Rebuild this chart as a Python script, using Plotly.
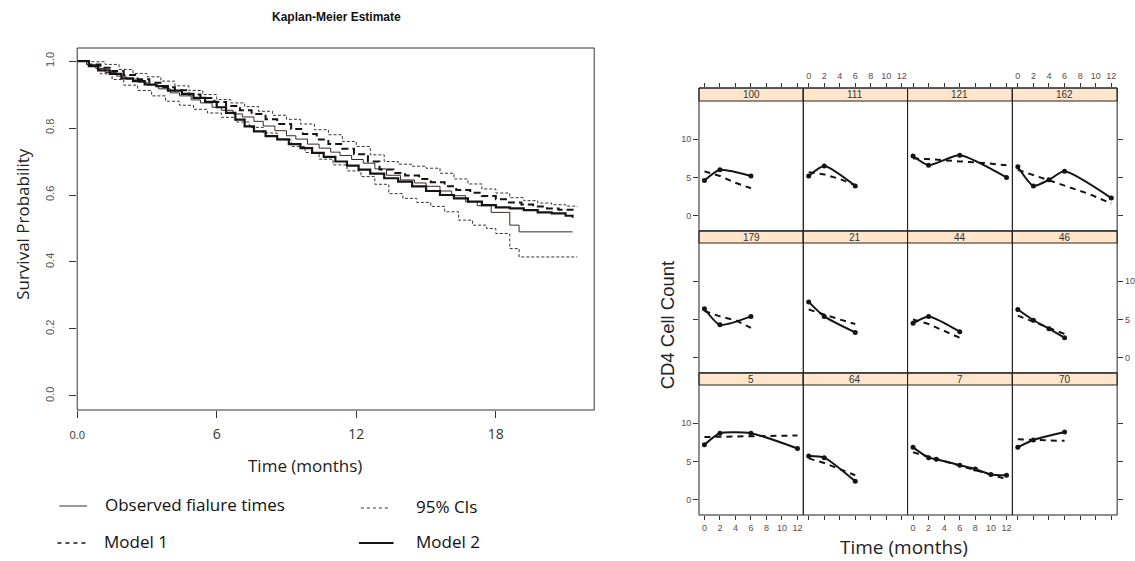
import plotly.graph_objects as go

W, H = 1135, 561

# ---------------- Left panel: Kaplan-Meier curves (step functions) ----------------
obs_t = [0, 0.4, 0.8, 1.2, 1.7, 2.1, 2.6, 3.0, 3.5, 4.0, 4.4, 4.9, 5.3, 5.8, 6.2, 6.7, 7.1, 7.6, 8.0,
         8.5, 9.0, 9.4, 9.9, 10.4, 10.9, 11.3, 11.8, 12.3, 12.8, 13.3, 13.9, 14.5, 15.0, 15.6, 16.1,
         16.7, 17.2, 17.8, 18.6, 19.0, 21.3]
obs_s = [1.0, 0.99, 0.978, 0.966, 0.955, 0.946, 0.937, 0.928, 0.917, 0.905, 0.896, 0.884, 0.875,
         0.862, 0.853, 0.842, 0.833, 0.82, 0.806, 0.792, 0.777, 0.767, 0.752, 0.74, 0.728, 0.718,
         0.706, 0.695, 0.678, 0.659, 0.645, 0.636, 0.626, 0.612, 0.598, 0.58, 0.568, 0.548, 0.51,
         0.49, 0.49]

m2_t = [0, 0.5, 0.9, 1.4, 1.9, 2.4, 2.9, 3.4, 3.9, 4.5, 5.0, 5.5, 6.0, 6.4, 6.8, 7.2, 7.6, 8.1, 8.6,
        9.1, 9.6, 10.1, 10.6, 11.1, 11.6, 12.1, 12.6, 13.2, 13.8, 14.4, 15.0, 15.6, 16.2, 16.8, 17.4,
        18.0, 18.6, 19.2, 19.8, 20.4, 21.0, 21.3]
m2_s = [1.0, 0.985, 0.972, 0.962, 0.948, 0.94, 0.93, 0.925, 0.912, 0.902, 0.89, 0.878, 0.862, 0.845,
        0.825, 0.805, 0.79, 0.776, 0.766, 0.752, 0.74, 0.726, 0.714, 0.7, 0.688, 0.676, 0.664, 0.65,
        0.64, 0.626, 0.612, 0.6, 0.59, 0.58, 0.57, 0.563, 0.56, 0.555, 0.548, 0.545, 0.538, 0.532]

m1_t = [0, 0.5, 1.0, 1.5, 2.0, 2.6, 3.1, 3.7, 4.2, 4.8, 5.3, 5.9, 6.4, 7.0, 7.5, 8.1, 8.6, 9.2, 9.7,
        10.3, 10.8, 11.4, 11.9, 12.5, 13.0, 13.6, 14.1, 14.7, 15.2, 15.8, 16.3, 16.9, 17.4, 18.0,
        18.5, 19.1, 19.6, 20.2, 20.7, 21.3]
m1_s = [1.0, 0.99, 0.98, 0.97, 0.958, 0.946, 0.935, 0.922, 0.913, 0.9, 0.89, 0.878, 0.866, 0.853,
        0.842, 0.826, 0.812, 0.797, 0.782, 0.766, 0.752, 0.738, 0.722, 0.7, 0.676, 0.666, 0.658,
        0.648, 0.638, 0.626, 0.615, 0.607, 0.597, 0.587, 0.578, 0.572, 0.566, 0.56, 0.556, 0.553]

ciu_t = [0, 0.6, 1.2, 1.8, 2.4, 3.0, 3.6, 4.2, 4.8, 5.4, 6.0, 6.6, 7.2, 7.8, 8.4, 9.0, 9.6, 10.2,
         10.8, 11.4, 12.0, 12.6, 13.2, 13.8, 14.4, 15.0, 15.6, 16.2, 16.8, 17.4, 18.0, 18.6, 19.2,
         19.8, 20.4, 21.0, 21.5]
ciu_s = [1.0, 0.998, 0.99, 0.975, 0.963, 0.953, 0.94, 0.926, 0.912, 0.9, 0.885, 0.875, 0.864, 0.85,
         0.838, 0.826, 0.812, 0.795, 0.78, 0.76, 0.745, 0.72, 0.7, 0.692, 0.686, 0.68, 0.665, 0.648,
         0.633, 0.618, 0.606, 0.592, 0.583, 0.576, 0.571, 0.567, 0.565]

cil_t = [0, 0.5, 1.0, 1.5, 2.0, 2.6, 3.2, 3.8, 4.4, 5.0, 5.6, 6.2, 6.8, 7.4, 8.0, 8.6, 9.2, 9.8,
         10.4, 11.0, 11.6, 12.2, 12.8, 13.4, 14.0, 14.6, 15.2, 15.8, 16.4, 17.0, 17.6, 18.0, 18.6,
         19.0, 21.5]
cil_s = [1.0, 0.985, 0.962, 0.945, 0.928, 0.912, 0.896, 0.88, 0.868, 0.856, 0.845, 0.832, 0.818,
         0.802, 0.785, 0.765, 0.745, 0.727, 0.707, 0.69, 0.672, 0.655, 0.632, 0.604, 0.59, 0.578,
         0.566, 0.55, 0.525, 0.51, 0.5, 0.485, 0.44, 0.415, 0.415]

km_xticks = [0, 6, 12, 18]
km_xticklabels = ['<span style="font-size:11px">0.0</span>', '6', '12', '18']
km_yticks = [0.0, 0.2, 0.4, 0.6, 0.8, 1.0]
km_yticklabels = ['0.0', '0.2', '0.4', '0.6', '0.8', '1.0']

# ---------------- Right panel: CD4 trajectories per subject ----------------
panel_ids = ['100', '111', '121', '162', '179', '21', '44', '46', '5', '64', '7', '70']
obs_time = [
    [0, 2, 6], [0, 2, 6], [0, 2, 6, 12], [0, 2, 4, 6, 12],
    [0, 2, 6], [0, 2, 6], [0, 2, 6], [0, 2, 4, 6],
    [0, 2, 6, 12], [0, 2, 6], [0, 2, 3, 6, 8, 10, 12], [0, 2, 6],
]
obs_cd4 = [
    [4.6, 6.0, 5.2], [5.2, 6.5, 3.9], [7.8, 6.6, 7.9, 5.0], [6.4, 3.9, 4.7, 5.8, 2.3],
    [6.4, 4.3, 5.4], [7.3, 5.4, 3.3], [4.5, 5.4, 3.4], [6.3, 4.9, 3.8, 2.6],
    [7.2, 8.7, 8.7, 6.7], [5.7, 5.5, 2.4], [6.85, 5.5, 5.3, 4.5, 4.0, 3.3, 3.2], [6.85, 7.8, 8.85],
]
fit_time = [
    [0, 2, 4, 6], [0, 2, 4, 6], [0, 2, 6, 9, 12], [0, 2, 4, 6, 9, 12],
    [0, 2, 4, 6], [0, 2, 4, 6], [0, 2, 4, 6], [0, 2, 4, 6],
    [0, 6, 12], [0, 2, 4, 6], [0, 3, 6, 9, 12], [0, 2, 4, 6],
]
fit_cd4 = [
    [5.8, 5.2, 4.3, 3.6], [5.7, 5.4, 4.8, 4.0], [7.5, 7.4, 7.1, 6.9, 6.6], [6.0, 5.3, 4.6, 4.0, 2.9, 1.6],
    [6.1, 5.4, 4.9, 3.9], [6.3, 5.6, 5.0, 4.4], [5.0, 4.4, 3.5, 2.6], [5.5, 4.7, 3.9, 3.1],
    [8.2, 8.3, 8.4], [5.4, 4.8, 4.0, 3.2], [6.2, 5.3, 4.4, 3.6, 2.7], [7.9, 7.8, 7.75, 7.7],
]
cd4_xticks = [0, 2, 4, 6, 8, 10, 12]
cd4_yticks = [0, 5, 10]

# ---------------- Build figure ----------------
fig = go.Figure()
INK = '#141414'


def fx(p):
    return p / W


def fy(p):
    return 1 - p / H


def note(text, x, y, size, family='Arial, Liberation Sans', color='#222', angle=0, xanchor='center'):
    return dict(text=text, x=fx(x), y=fy(y), xref='paper', yref='paper', xanchor=xanchor, yanchor='middle',
                textangle=angle, showarrow=False, font=dict(family=family, size=size, color=color))


fig.add_trace(go.Scatter(x=ciu_t, y=ciu_s, mode='lines', line=dict(shape='hv', color='#333', width=1, dash='3px,2px'),
                         xaxis='x', yaxis='y', showlegend=False, hoverinfo='skip'))
fig.add_trace(go.Scatter(x=cil_t, y=cil_s, mode='lines', line=dict(shape='hv', color='#333', width=1, dash='3px,2px'),
                         xaxis='x', yaxis='y', showlegend=False, hoverinfo='skip'))
fig.add_trace(go.Scatter(x=obs_t, y=obs_s, mode='lines', line=dict(shape='hv', color='#3a2a26', width=1),
                         xaxis='x', yaxis='y', showlegend=False, hoverinfo='skip'))
fig.add_trace(go.Scatter(x=m1_t, y=m1_s, mode='lines', line=dict(shape='hv', color=INK, width=2, dash='7px,4px'),
                         xaxis='x', yaxis='y', showlegend=False, hoverinfo='skip'))
fig.add_trace(go.Scatter(x=m2_t, y=m2_s, mode='lines', line=dict(shape='hv', color=INK, width=2.2),
                         xaxis='x', yaxis='y', showlegend=False, hoverinfo='skip'))

layout = dict(
    width=W, height=H, autosize=False,
    margin=dict(l=0, r=0, t=0, b=0),
    paper_bgcolor='white', plot_bgcolor='white',
    showlegend=False,
    font=dict(family='Arial, Liberation Sans', color='#222'),
)

layout['xaxis'] = dict(domain=[fx(70), fx(593)], range=[0, 22.23], anchor='y',
                       tickmode='array', tickvals=km_xticks, ticktext=km_xticklabels,
                       ticks='outside', ticklen=7, tickcolor='#333', showline=False,
                       showgrid=False, zeroline=False, ticklabelstandoff=4,
                       tickfont=dict(family='Open Sans', size=14, color='#333'))
layout['yaxis'] = dict(domain=[fy(410), fy(48)], range=[-0.042, 1.039], anchor='x',
                       tickmode='array', tickvals=km_yticks, ticktext=km_yticklabels,
                       tickangle=-90, ticks='outside', ticklen=7, tickcolor='#333',
                       showgrid=False, zeroline=False, showline=False, ticklabelstandoff=11,
                       tickfont=dict(family='Arial, Liberation Sans', size=11, color='#555'))

shapes = []
annotations = []

# KM box
shapes.append(dict(type='rect', xref='paper', yref='paper', x0=fx(70), x1=fx(593), y0=fy(410), y1=fy(48),
                   line=dict(color='#333', width=1)))

annotations.append(note('<b>Kaplan-Meier Estimate</b>', 332, 17, 12, color='#111'))
annotations.append(note('Survival Probability', 14, 224, 17, family='Open Sans', angle=-90))
annotations.append(note('Time (months)', 300, 465, 17, family='Open Sans'))

# Legend (drawn manually)
leg_items = [
    (52, 80, 506, dict(color='#333', width=1), 96, 'Observed fialure times'),
    (357, 386, 508, dict(color='#333', width=1, dash='dot'), 411, '95% CIs'),
    (50, 80, 543, dict(color=INK, width=1.6, dash='4px,4px'), 95, 'Model 1'),
    (355, 390, 543, dict(color=INK, width=2.2), 411, 'Model 2'),
]
for x0, x1, yy, ln, tx, label in leg_items:
    shapes.append(dict(type='line', xref='paper', yref='paper', x0=fx(x0), x1=fx(x1), y0=fy(yy), y1=fy(yy), line=ln))
    annotations.append(note(label, tx, yy - 2, 17, family='Open Sans', color='#111', xanchor='left'))

# Trellis panels
col_l = [699, 804.5, 910, 1016]
col_r = [804.5, 910, 1016, 1122]
rows = [(88, 101, 231), (231, 243, 373), (373, 385, 515)]
PXU = 130 / 17.0  # pixels per CD4 unit
STRIP = '#FFE5CC'

for k, pid in enumerate(panel_ids):
    r, c = divmod(k, 4)
    n = k + 2
    st, sb, pb = rows[r]
    l, rr = col_l[c], col_r[c]
    ytop = 15 + (sb - st) / PXU

    xa = dict(domain=[fx(l), fx(rr)], range=[-0.7, 12.75], anchor='y%d' % n,
              showgrid=False, zeroline=False, showline=False,
              tickmode='array', tickvals=cd4_xticks, tickcolor='#333', ticklen=4,
              tickfont=dict(family='Arial, Liberation Sans', size=9, color='#5a4a4a'))
    if r == 0:
        xa.update(side='top', ticks='outside', showticklabels=(c in (1, 3)))
    elif r == 2:
        xa.update(side='bottom', ticks='outside', showticklabels=(c in (0, 2)))
    else:
        xa.update(ticks='', showticklabels=False)

    ya = dict(domain=[fy(pb), fy(st)], range=[-2.0, ytop], anchor='x%d' % n,
              showgrid=False, zeroline=False, showline=False,
              tickmode='array', tickvals=cd4_yticks, tickcolor='#333', ticklen=5,
              tickfont=dict(family='Arial, Liberation Sans', size=9, color='#5a4a4a'))
    if c == 0:
        ya.update(side='left', ticks='outside', showticklabels=(r != 1))
    elif c == 3:
        ya.update(side='right', ticks='outside', showticklabels=(r == 1))
    else:
        ya.update(ticks='', showticklabels=False)

    layout['xaxis%d' % n] = xa
    layout['yaxis%d' % n] = ya

    fig.add_trace(go.Scatter(x=fit_time[k], y=fit_cd4[k], mode='lines',
                             line=dict(color=INK, width=2, dash='6px,5px'),
                             xaxis='x%d' % n, yaxis='y%d' % n, showlegend=False, hoverinfo='skip'))
    fig.add_trace(go.Scatter(x=obs_time[k], y=obs_cd4[k], mode='lines+markers',
                             line=dict(color=INK, width=2, shape='spline', smoothing=0.6),
                             marker=dict(color=INK, size=5),
                             xaxis='x%d' % n, yaxis='y%d' % n, showlegend=False, hoverinfo='skip'))

    shapes.append(dict(type='rect', xref='paper', yref='paper', x0=fx(l), x1=fx(rr), y0=fy(sb), y1=fy(st),
                       fillcolor=STRIP, line=dict(color='#222', width=1), layer='above'))
    shapes.append(dict(type='rect', xref='paper', yref='paper', x0=fx(l), x1=fx(rr), y0=fy(pb), y1=fy(st),
                       line=dict(color='#222', width=1), layer='above'))
    annotations.append(note(pid, (l + rr) / 2, (st + sb) / 2 + 0.5, 10, color='#333'))

annotations.append(note('CD4 Cell Count', 667, 325, 18.5, angle=-90))
annotations.append(note('Time (months)', 906, 547, 19, family='Open Sans'))

layout['shapes'] = shapes
layout['annotations'] = annotations
fig.update_layout(**layout)

fig.write_html('out.html', config={'displayModeBar': False},
               post_script="document.body.style.margin='0';document.body.style.overflow='hidden';")
